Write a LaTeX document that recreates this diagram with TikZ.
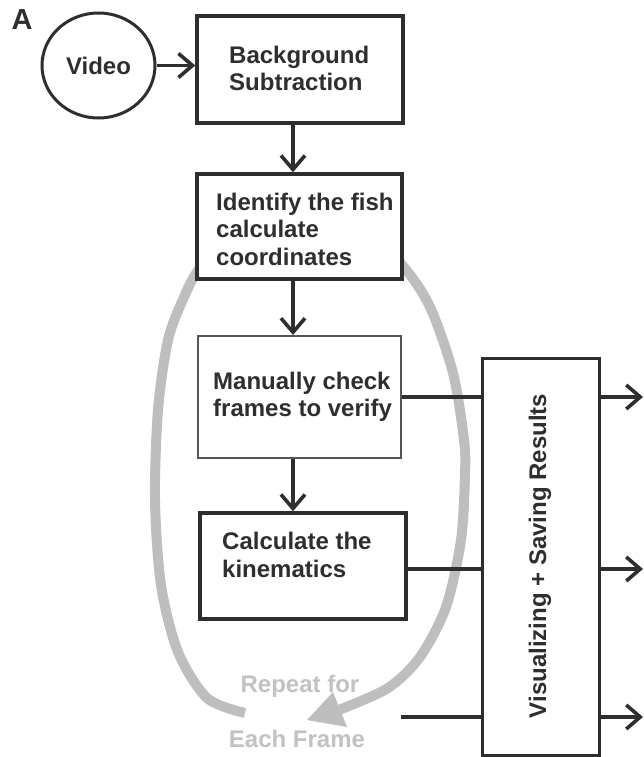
\documentclass[tikz,border=0pt]{standalone}
\usepackage{fontspec}
\setmainfont{Liberation Sans}
\usetikzlibrary{arrows.meta,shapes.geometric}
\definecolor{ink}{HTML}{2E2E2E}
\definecolor{thinink}{HTML}{555555}
\definecolor{loopgray}{HTML}{BEBEBE}
\definecolor{loopText}{HTML}{C2C2C2}
\begin{document}
\begin{tikzpicture}[x=1pt,y=-1pt,
  box/.style={draw=ink, line width=3.5pt, fill=white, inner sep=0pt},
  thinbox/.style={draw=thinink, line width=2pt, fill=white, inner sep=0pt},
  lbl/.style={text=ink, font=\fontsize{24}{27.5}\selectfont\bfseries, align=left, inner sep=0pt},
  arr/.style={draw=ink, line width=3.6pt, -{Straight Barb[length=14pt,width=24pt]}},
  link/.style={draw=ink, line width=3.2pt},
  loopline/.style={draw=loopgray, line width=10pt, line cap=butt},
  looplbl/.style={text=loopText, font=\fontsize{24}{27}\selectfont\bfseries, inner sep=0pt}]
\useasboundingbox (0,0) rectangle (644,757);
\fill[white] (0,0) rectangle (644,757);

% panel letter
\node[text=ink, font=\fontsize{29}{30}\selectfont\bfseries, inner sep=0pt] (panel) at (22,20) {A};

% repeat loop (drawn first, boxes cover its top)
\draw[loopline] plot[smooth, tension=0.5] coordinates {
  (245,713) (207,698) (178,652) (161,585) (155,500) (158,410) (168,340)
  (184,297) (200,268) (240,225) (300,205) (360,225) (403,266) (430,307)
  (453,373) (464,440) (465,475) (461,540) (446,607) (420,657) (388,688)
  (340,709.5)};
\fill[loopgray] (307,720) -- (333,692) -- (347,727) -- cycle;
\node[looplbl] (rep1) at (300,686) {Repeat for};
\node[looplbl] (rep2) at (297,739) {Each Frame};

% nodes
\node[draw=ink, line width=3pt, ellipse, minimum width=113pt, minimum height=105pt, inner sep=0pt, lbl] (video) at (98.5,65.5) {Video};

\node[box, minimum width=206pt, minimum height=107pt] (bg) at (300,69.5) {};
\node[lbl, anchor=west] (bgtxt) at (229,68.5) {Background\\Subtraction};

\node[box, minimum width=205pt, minimum height=105pt] (ident) at (299.5,226.5) {};
\node[lbl, anchor=west] (identtxt) at (216,229) {Identify the fish\\calculate\\coordinates};

\node[thinbox, minimum width=203pt, minimum height=122pt] (mcheck) at (299.5,397) {};
\node[lbl, anchor=west] (mchecktxt) at (213,397) {Manually check\\frames to verify};

\node[box, minimum width=206pt, minimum height=106pt] (calc) at (303,566) {};
\node[lbl, anchor=west] (calctxt) at (222,555) {Calculate the\\kinematics};

\node[draw=ink, line width=3pt, fill=white, minimum width=117pt, minimum height=397pt, inner sep=0pt] (vis) at (540.5,556.5) {};
\node[lbl, rotate=90] (vistxt) at (540,556) {Visualizing + Saving Results};

% helper coordinates
\coordinate (axis) at (293,0);
\coordinate (in3) at (401,717);
\coordinate (out1) at (643,397);
\coordinate (out2) at (643,569);
\coordinate (out3) at (643,717);

% connectors
\draw[arr] (video.east) -- (video.east -| bg.west);
\draw[arr] (bg.south -| axis) -- (ident.north -| axis);
\draw[arr] (ident.south -| axis) -- (mcheck.north -| axis);
\draw[arr] (mcheck.south -| axis) -- (calc.north -| axis);

\draw[link] (mcheck.east) -- (mcheck.east -| vis.west);
\draw[link] (calc.east |- out2) -- (vis.west |- out2);
\draw[link] (in3) -- (vis.west |- in3);

\draw[arr] (vis.east |- out1) -- (out1);
\draw[arr] (vis.east |- out2) -- (out2);
\draw[arr] (vis.east |- out3) -- (out3);
\end{tikzpicture}
\end{document}
